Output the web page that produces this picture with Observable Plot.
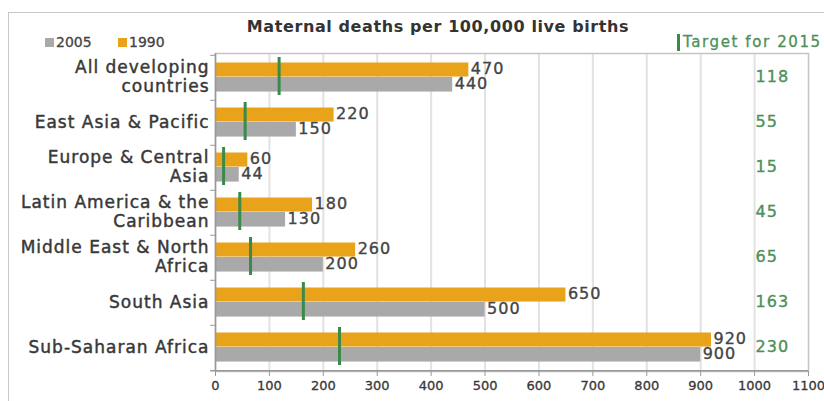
<!DOCTYPE html>
<html>
<head>
<meta charset="utf-8">
<script src="https://cdn.jsdelivr.net/npm/d3@7"></script>
<script src="https://cdn.jsdelivr.net/npm/@observablehq/plot@0.6"></script>
<style>
  html, body { margin: 0; padding: 0; background: #fff; }
  body { width: 824px; height: 401px; overflow: hidden; font-family: "DejaVu Sans", sans-serif; color: #333; }
  #wrap { position: relative; width: 824px; height: 401px; }
  #border { position: absolute; left: 8px; top: 12px; width: 830px; height: 420px; border: 1.5px solid #c8c8c8; box-sizing: border-box; }
  #header { position: relative; height: 46px; }
  #title { position: absolute; left: 0; width: 876px; top: 17px; text-align: center; font-size: 16px; font-weight: bold; letter-spacing: 0.6px; color: #333; white-space: nowrap; }
  .leg { position: absolute; top: 34px; font-size: 14px; color: #444; white-space: nowrap; display: flex; align-items: center; -webkit-text-stroke: 0.3px #444; }
  .sw { display: inline-block; width: 9px; height: 9px; margin-right: 2px; }
  #target { position: absolute; left: 677px; top: 33px; font-size: 15px; letter-spacing: 1.6px; color: #4d8f5a; white-space: nowrap; display: flex; align-items: center; -webkit-text-stroke: 0.3px #4d8f5a; }
  #target .bar { display: inline-block; width: 3px; height: 17px; background: #3b8a4c; margin-right: 3px; }
  #chart { position: relative; }
</style>
</head>
<body>
<div id="wrap">
  <div id="border"></div>
  <div id="header">
    <div id="title"></div>
    <div id="legend"></div>
    <div id="target"><span class="bar"></span><span id="targetText"></span></div>
  </div>
  <div id="chart"></div>
</div>
<script>
// ---- Data ----
const title = "Maternal deaths per 100,000 live births";
const categories = ["All developing countries", "East Asia & Pacific", "Europe & Central Asia", "Latin America & the Caribbean", "Middle East & North Africa", "South Asia", "Sub-Saharan Africa"];
const categoryLabels = ["All developing\ncountries", "East Asia & Pacific", "Europe & Central\nAsia", "Latin America & the\nCaribbean", "Middle East & North\nAfrica", "South Asia", "Sub-Saharan Africa"];
const values1990 = [470, 220, 60, 180, 260, 650, 920];
const values2005 = [440, 150, 44, 130, 200, 500, 900];
const target2015 = [118, 55, 15, 45, 65, 163, 230];
const seriesNames = ["2005", "1990"];
const targetLabel = "Target for 2015";
const xTicks = [0, 100, 200, 300, 400, 500, 600, 700, 800, 900, 1000, 1100];

// ---- Styling ----
const colors = {"1990": "#e8a31b", "2005": "#a9a9a9"};
const green = "#3b8a4c";
const greenText = "#4d8f5a";
const FONT = "DejaVu Sans, sans-serif";

document.getElementById("title").textContent = title;
document.getElementById("targetText").textContent = targetLabel;
const legend = document.getElementById("legend");
const legPos = {"2005": 45, "1990": 118};
seriesNames.forEach(s => {
  const d = document.createElement("div");
  d.className = "leg";
  d.style.left = legPos[s] + "px";
  d.innerHTML = `<span class="sw" style="background:${colors[s]}"></span>${s}`;
  legend.appendChild(d);
});

const data = categories.map((c, i) => ({
  cat: c, label: categoryLabels[i], v1990: values1990[i], v2005: values2005[i], target: target2015[i]
}));

const W = 824, H = 355, mt = 7, mb = 30, ml = 215, mr = 16;
const bw = (H - mt - mb) / categories.length;
const dark = "#383838";
const numc = "#444";

const chart = Plot.plot({
  width: W, height: H,
  marginLeft: ml, marginRight: mr, marginTop: mt, marginBottom: mb,
  style: {fontFamily: FONT, background: "transparent", overflow: "visible", letterSpacing: "1px"},
  x: {domain: [0, 1100]},
  y: {domain: categories, padding: 0, axis: null},
  marks: [
    Plot.ruleX(xTicks.slice(1, -1), {stroke: "#e2e2e2", strokeWidth: 2}),
    Plot.frame({stroke: "#c4c4c4", strokeWidth: 1.5}),
    Plot.barX(data, {x: "v1990", y: "cat", fill: colors["1990"], insetTop: 7.5, insetBottom: bw - 22}),
    Plot.barX(data, {x: "v2005", y: "cat", fill: colors["2005"], insetTop: 22, insetBottom: bw - 37}),
    Plot.tickX(data, {x: "target", y: "cat", stroke: green, strokeWidth: 3, insetTop: 2, insetBottom: 5}),
    Plot.text(data, {x: "v1990", y: "cat", text: d => String(d.v1990), dx: 2, dy: -9, textAnchor: "start", fontSize: 16, fill: numc, stroke: numc, strokeWidth: 0.35}),
    Plot.text(data, {x: "v2005", y: "cat", text: d => String(d.v2005), dx: 2, dy: 6, textAnchor: "start", fontSize: 16, fill: numc, stroke: numc, strokeWidth: 0.35}),
    Plot.text(data, {x: () => 1000, y: "cat", text: d => String(d.target), dx: 1, dy: -1, textAnchor: "start", fontSize: 16, fill: greenText, stroke: greenText, strokeWidth: 0.35}),
    Plot.text(data, {x: () => 0, y: "cat", text: "label", dx: -6, dy: -1.5, textAnchor: "end", fontSize: 17, lineHeight: 1.13, fill: dark, stroke: dark, strokeWidth: 0.45}),
    Plot.ruleX([0], {stroke: "#999", strokeWidth: 1.5}),
    Plot.ruleY(categories, {y: d => d, dy: -bw / 2, x1: -9, x2: 0, stroke: "#999"}),
    Plot.ruleY([categories[categories.length - 1]], {y: d => d, dy: bw / 2, x1: -9, x2: 1100, stroke: "#999", strokeWidth: 1.5}),
    Plot.axisX({ticks: xTicks, tickFormat: d => String(d), tickSize: 5, tickPadding: 4, fontSize: 13, stroke: "#999", fill: dark})
  ]
});
d3.select(chart).selectAll('g[aria-label="x-axis tick label"] text').style("letter-spacing", "0px").style("stroke", dark).style("stroke-width", "0.3px").style("paint-order", "stroke");
document.getElementById("chart").appendChild(chart);
</script>
</body>
</html>
